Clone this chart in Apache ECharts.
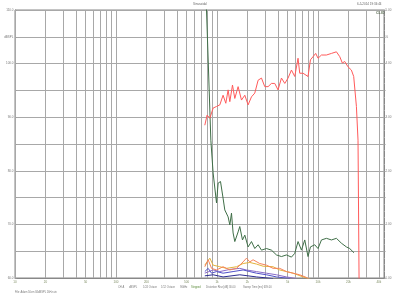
<!DOCTYPE html>
<html>
<head>
<meta charset="UTF-8">
<title>Sinusoidal</title>
<script src="https://cdn.jsdelivr.net/npm/echarts@6/dist/echarts.min.js"></script>
<style>
    html, body { margin: 0; padding: 0; background: #fff; }
    #chart { width: 400px; height: 300px; }
</style>
</head>
<body>
<div id="chart"></div>
<script>
    // x axis tick labels (Hz)
    var tickFreqs = [10, 20, 50, 100, 200, 500, 1000, 2000, 5000, 10000, 20000, 40000];
    var tickLabels = ['10', '20', '50', '100', '200', '500', '1k', '2k', '5k', '10k', '20k', '40k'];

    // frequency response (red), dBSPL
    var respFreq = [757, 798, 849, 915, 989, 1066, 1148, 1222, 1288, 1339, 1423, 1500, 1618, 1747, 1884, 2032, 2194, 2366, 2552, 2754,
        2971, 3202, 3459, 3731, 4020, 4345, 4688, 5050, 5457, 5885, 6342, 6592, 7110, 7962, 8414, 8933, 9486, 10000, 10815, 12114,
        13585, 15210, 16410, 17420, 18370, 19820, 21390, 22550, 23990, 24890, 25600];
    var respDb = [88.5, 90.4, 89.8, 91.7, 92.0, 92.3, 94.1, 92.6, 95.1, 92.9, 96.0, 93.5, 95.7, 93.2, 94.1, 92.3, 93.8, 94.5, 96.9, 97.3,
        95.7, 95.7, 96.3, 96.3, 95.1, 97.3, 96.3, 97.3, 98.8, 97.6, 101.0, 98.2, 98.2, 97.6, 100.7, 101.3, 101.9, 101.0, 101.6, 101.6,
        101.9, 102.2, 101.3, 100.1, 100.4, 99.4, 98.8, 97.6, 92.0, 85.7, 55];

    // THD (green)
    var thdFreq = [740, 787, 869, 915, 989, 1026, 1083, 1148, 1194, 1288, 1339, 1391, 1443, 1500, 1618, 1680, 1787, 1884, 2032, 2194,
        2366, 2552, 2754, 3088, 3459, 3878, 4345, 4867, 5457, 5885, 6342, 6592, 6854, 7388, 7962, 8414, 9272, 10000, 10815, 12114,
        13585, 15210, 17030, 19090, 20590, 22710];
    var thdDb = [114, 110.0, 85.7, 79.6, 74.0, 77.7, 78.0, 74.9, 72.7, 71.4, 69.9, 72.1, 68.4, 66.8, 68.6, 69.6, 67.1, 68.0, 65.8, 66.8,
        65.5, 66.2, 65.2, 65.5, 65.2, 64.3, 64.0, 64.3, 63.9, 64.6, 66.8, 67.1, 65.2, 67.1, 64.0, 65.8, 66.2, 65.5, 67.1, 67.4,
        67.1, 67.4, 66.5, 65.8, 65.5, 64.7];

    // harmonics
    var h2Freq = [757, 817, 883, 989, 1148, 1339, 1560, 1812, 1958, 2110, 2275, 2650, 3088, 3589, 4180, 4867, 5662, 6592, 7680, 8400];
    var h2Db = [62.1, 63.4, 61.8, 61.5, 62.1, 61.5, 61.8, 63.0, 63.7, 63.0, 63.4, 62.7, 62.4, 61.8, 61.8, 61.2, 60.9, 60.6, 60.1, 59.6];
    var h3Freq = [757, 849, 883, 915, 1066, 1242, 1560, 1812, 2110, 2459, 2858, 3589, 4180, 4867, 5662, 7110, 8933];
    var h3Db = [62.4, 63.7, 64.0, 62.4, 62.1, 61.8, 62.1, 62.7, 62.9, 62.6, 62.2, 62.1, 61.5, 61.2, 60.9, 60.2, 59.6];
    var h4Freq = [757, 817, 883, 989, 1148, 1443, 1812, 2110, 2459, 3088, 3878, 5248];
    var h4Db = [61.2, 61.8, 60.9, 61.2, 60.9, 61.2, 61.5, 61.2, 60.9, 60.6, 60.2, 59.9];
    var h5Freq = [757, 915, 1066, 1339, 1680, 1958, 2459, 3088, 3878, 4867, 6111];
    var h5Db = [60.9, 61.5, 61.2, 61.6, 61.8, 61.5, 61.2, 60.9, 60.6, 60.2, 59.9];
    var h6Freq = [757, 915, 1148, 1680, 2459, 3589];
    var h6Db = [60.4, 60.6, 60.2, 60.6, 60.2, 59.9];

    var font = 'Liberation Sans';
    var gridColor = '#a8a8a8';

    function pairs(fs, ds) {
        return fs.map(function (f, i) { return [f, ds[i]]; });
    }

    // vertical log grid lines 10,20..90,100,200..
    var gridLines = [];
    [10, 100, 1000, 10000].forEach(function (d) {
        for (var m = 1; m <= 9; m++) {
            var f = d * m;
            if (f > 45000) continue;
            var idx = tickFreqs.indexOf(f);
            gridLines.push({
                xAxis: f,
                label: idx >= 0 ? {show: true, formatter: tickLabels[idx]} : {show: false}
            });
        }
    });

    function curve(name, fs, ds, color) {
        return {
            name: name, type: 'line', data: pairs(fs, ds), showSymbol: false, symbol: 'none',
            lineStyle: {color: color, width: 1}, clip: true, z: 3, silent: true
        };
    }

    var chart = echarts.init(document.getElementById('chart'), null, {renderer: 'canvas'});

    var info = [
        ['CH A', 118, '#777'], ['dBSPL', 129, '#777'], ['1/24 Octave', 143, '#777'], ['1/12 Octave', 161, '#777'],
        ['96kHz', 180, '#777'], ['Stepped', 191, '#5a8a3a'], ['Distortion Rise [dB] 30.00', 206, '#777'],
        ['Sweep Time [ms] 639.00', 243, '#777']
    ];
    var graphics = info.map(function (it) {
        return {type: 'text', x: it[1], y: 287.5, silent: true,
            style: {text: it[0], fontSize: 2.6, fontFamily: font, fill: it[2], verticalAlign: 'middle'}};
    });
    graphics.push({type: 'text', x: 15, y: 292.7, silent: true,
        style: {text: 'File: Adam 50cm 84dBSPL 1kHz.sin', fontSize: 2.6, fontFamily: font, fill: '#777', verticalAlign: 'middle'}});
    graphics.push({type: 'text', x: 200, y: 4.5, silent: true,
        style: {text: 'Sinusoidal', fontSize: 3, fontFamily: font, fill: '#666', align: 'center', verticalAlign: 'middle'}});
    graphics.push({type: 'text', x: 357, y: 4.5, silent: true,
        style: {text: '6-5-2014 19:34:44', fontSize: 3, fontFamily: font, fill: '#666', verticalAlign: 'middle'}});
    graphics.push({type: 'text', x: 376, y: 12.5, silent: true, z: 10,
        style: {text: 'CLIO', fontSize: 3.6, fontWeight: 'bold', fontFamily: font, fill: '#5d6e55', verticalAlign: 'middle'}});

    var option = {
        backgroundColor: '#fff',
        animation: false,
        textStyle: {fontFamily: font},
        grid: {left: 15, top: 10, width: 369, height: 268, show: true, borderColor: '#888', borderWidth: 1, backgroundColor: '#fff'},
        xAxis: {
            type: 'log', logBase: 10, min: 10, max: 45000,
            axisLabel: {show: false}, axisTick: {show: false}, splitLine: {show: false},
            axisLine: {show: true, lineStyle: {color: '#888'}}
        },
        yAxis: [{
            type: 'value', min: 60, max: 110, interval: 5, position: 'left',
            axisLine: {show: true, lineStyle: {color: '#888'}},
            axisTick: {show: true, inside: true, length: 1.5, lineStyle: {color: '#999'}},
            minorTick: {show: true, splitNumber: 4, length: 1, lineStyle: {color: '#aaa'}},
            axisLabel: {fontSize: 3, color: '#777', margin: 1.5, fontFamily: font,
                formatter: function (v) {
                    if (v === 105) return 'dBSPL';
                    return v % 10 === 0 ? v.toFixed(1) : '';
                }},
            splitLine: {show: true, lineStyle: {color: gridColor, width: 1}}
        }, {
            type: 'value', min: 0, max: 5, interval: 0.5, position: 'right',
            axisLine: {show: true, lineStyle: {color: '#888'}},
            axisTick: {show: true, length: 1.5, lineStyle: {color: '#999'}},
            minorTick: {show: true, splitNumber: 4, length: 1, lineStyle: {color: '#aaa'}},
            axisLabel: {fontSize: 3, color: '#777', margin: 1.5, fontFamily: font,
                formatter: function (v) {
                    if (Math.abs(v - 4.5) < 1e-6) return '%';
                    return Math.abs(v - Math.round(v)) < 1e-6 ? v.toFixed(2) : '';
                }},
            splitLine: {show: false}
        }],
        graphic: graphics,
        series: [
            {
                name: 'grid', type: 'line', data: [], z: 1,
                markLine: {
                    silent: true, symbol: ['none', 'none'], animation: false, z: 1,
                    lineStyle: {color: gridColor, width: 1, type: 'solid'},
                    label: {position: 'start', distance: 2.5, fontSize: 3, color: '#7d8c63', fontFamily: font},
                    emphasis: {disabled: true},
                    data: gridLines
                }
            },
            curve('h6', h6Freq, h6Db, '#2a2a90'),
            curve('h5', h5Freq, h5Db, '#8a6cc8'),
            curve('h4', h4Freq, h4Db, '#5050c8'),
            curve('h3', h3Freq, h3Db, '#e3b23c'),
            curve('h2', h2Freq, h2Db, '#f5835a'),
            curve('THD', thdFreq, thdDb, '#3f6e47'),
            curve('Response', respFreq, respDb, '#ff5a5a')
        ]
    };
    chart.setOption(option);
</script>
</body>
</html>
